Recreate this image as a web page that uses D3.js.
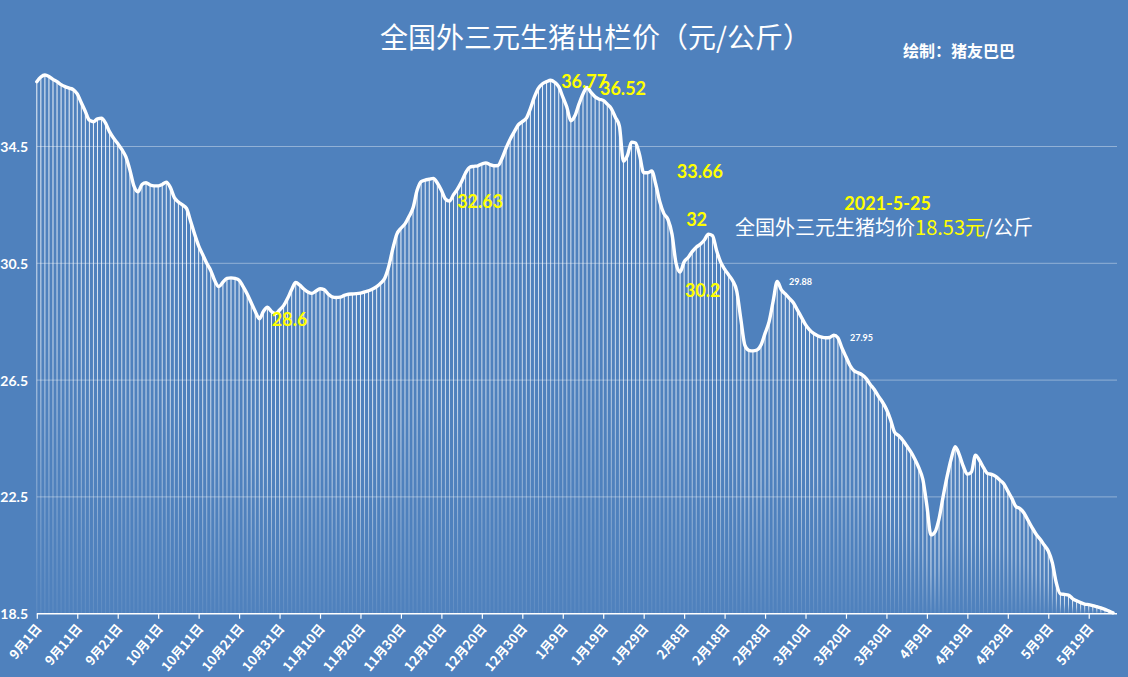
<!DOCTYPE html>
<html><head><meta charset="utf-8">
<script src="https://cdn.jsdelivr.net/npm/d3@7"></script>
<style>
html,body{margin:0;padding:0;background:#4f81bd;}
svg{display:block;}
</style></head><body>
<svg id="chart" width="1128" height="677"></svg>
<script>
// ---------------- data ----------------
const startDate = "2020-09-01";
const sepValues = [36.72,36.88,36.95,36.9,36.8,36.72,36.62,36.55,36.5,36.45,36.3,36.0,35.7,35.4,35.35,35.45,35.47,35.3,35.0,34.78,34.6,34.4,34.15,33.7,33.15,32.95,33.2,33.26,33.18,33.15];
const octValues = [33.15,33.2,33.28,33.1,32.75,32.6,32.5,32.38,31.95,31.5,31.1,30.8,30.5,30.25,29.9,29.7,29.85,29.98,30.0,29.98,29.92,29.7,29.45,29.15,28.85,28.6,28.85,29.0,28.85,28.78,28.9];
const novValues = [29.05,29.3,29.6,29.84,29.75,29.62,29.52,29.47,29.55,29.63,29.6,29.45,29.35,29.33,29.34,29.4,29.44,29.45,29.46,29.48,29.52,29.56,29.62,29.7,29.82,29.99,30.4,31.0,31.5,31.7];
const decValues = [31.85,32.1,32.4,33.0,33.3,33.35,33.38,33.41,33.25,33.0,32.7,32.63,32.85,33.05,33.3,33.6,33.79,33.82,33.84,33.9,33.94,33.88,33.84,33.85,34.1,34.45,34.75,35.0,35.24,35.35,35.47];
const janValues = [35.8,36.2,36.5,36.65,36.72,36.77,36.7,36.55,36.2,35.85,35.38,35.55,35.95,36.3,36.52,36.35,36.2,36.12,36.08,35.95,35.8,35.5,35.2,34.0,34.2,34.65,34.62,34.2,33.6,33.6,33.66];
const febValues = [33.2,32.6,32.2,32.0,31.5,30.5,30.2,30.55,30.7,30.9,31.05,31.15,31.3,31.5,31.45,30.95,30.55,30.3,30.1,29.9,29.55,28.6,27.7,27.52,27.5,27.53,27.7,28.1];
const marValues = [28.5,29.2,29.88,29.6,29.45,29.3,29.15,28.9,28.65,28.4,28.22,28.1,28.02,27.97,27.95,27.96,28.04,27.95,27.6,27.3,27.0,26.82,26.75,26.68,26.55,26.35,26.18,25.95,25.75,25.5,25.15];
const aprValues = [24.72,24.6,24.45,24.25,24.05,23.8,23.5,23.1,22.2,21.2,21.3,21.75,22.5,23.2,23.8,24.22,23.95,23.55,23.28,23.35,23.93,23.75,23.5,23.3,23.27,23.2,23.08,22.95,22.7,22.45];
const mayValues = [22.17,22.1,21.95,21.7,21.45,21.22,21.05,20.85,20.65,20.25,19.55,19.18,19.16,19.14,19.02,18.94,18.88,18.83,18.81,18.78,18.74,18.7,18.65,18.59,18.53];

const tickLabels = ["9月1日","9月11日","9月21日","10月1日","10月11日","10月21日","10月31日","11月10日","11月20日","11月30日","12月10日","12月20日","12月30日","1月9日","1月19日","1月29日","2月8日","2月18日","2月28日","3月10日","3月20日","3月30日","4月9日","4月19日","4月29日","5月9日","5月19日"];
const yTickValues = [18.5, 22.5, 26.5, 30.5, 34.5];

const titleText = "全国外三元生猪出栏价（元/公斤）";
const creditText = "绘制：猪友巴巴";
const calloutTexts = ["36.77","36.52","32.63","28.6","33.66","32","30.2"];
const smallTexts = ["29.88","27.95"];
const noteDate = "2021-5-25";
const notePrefix = "全国外三元生猪均价";
const noteValue = "18.53元";
const noteSuffix = "/公斤";

// ---------------- build ----------------
const values = [].concat(sepValues, octValues, novValues, decValues, janValues, febValues, marValues, aprValues, mayValues);
const parse = d3.utcParse("%Y-%m-%d");
const d0 = parse(startDate);
const data = values.map((v, i) => ({i, date: d3.utcDay.offset(d0, i), v}));

const svg = d3.select("#chart");
const W = 1128, H = 677;
const left = 36.8, right = 1113, plotRight = 1117;

svg.append("rect").attr("width", W).attr("height", H).attr("fill", "#4f81bd");

const x = d3.scaleLinear().domain([0, values.length - 1]).range([left, right]);
const y = d3.scaleLinear().domain([18.5, 34.5]).range([613.7, 146.5]);

const defs = svg.append("defs");
const grad = defs.append("linearGradient").attr("id", "dropGrad")
  .attr("x1", 0).attr("y1", 0).attr("x2", 0).attr("y2", 1);
grad.append("stop").attr("offset", "0%").attr("stop-color", "#fff").attr("stop-opacity", 0.92);
grad.append("stop").attr("offset", "50%").attr("stop-color", "#fff").attr("stop-opacity", 0.7);
grad.append("stop").attr("offset", "100%").attr("stop-color", "#fff").attr("stop-opacity", 0.08);

// gridlines
svg.append("g").selectAll("line").data(yTickValues.filter(t => t !== 18.5)).join("line")
  .attr("x1", left).attr("x2", plotRight)
  .attr("y1", d => y(d)).attr("y2", d => y(d))
  .attr("stroke", "#ffffff").attr("stroke-opacity", 0.38).attr("stroke-width", 1);

// drop lines (thin columns)
svg.append("g").selectAll("rect").data(data).join("rect")
  .attr("x", d => x(d.i) - 0.5).attr("width", 1.0)
  .attr("y", d => y(d.v)).attr("height", d => y(18.5) - y(d.v))
  .attr("fill", "url(#dropGrad)");

// y labels
svg.append("g").selectAll("text").data(yTickValues).join("text")
  .attr("x", 28).attr("y", d => y(d) + 5.5)
  .attr("text-anchor", "end")
  .attr("font-family", "Lato, 'DejaVu Sans', sans-serif").attr("font-weight", "bold")
  .attr("font-size", 14).attr("fill", "#fff")
  .text(d => d.toFixed(1));

// x axis
const tickIdx = tickLabels.map((_, k) => k * 10);
const xAxis = d3.axisBottom(x).tickValues(tickIdx).tickSize(5).tickSizeOuter(0)
  .tickFormat((d, k) => tickLabels[k]);
const gx = svg.append("g").attr("transform", `translate(0,${y(18.5)})`).call(xAxis);
gx.select(".domain").attr("stroke", "#fff").attr("stroke-width", 1.6)
  .attr("d", `M${left},0H${plotRight}`);
gx.selectAll(".tick line").attr("stroke", "#fff").attr("stroke-width", 1.2);
gx.selectAll(".tick text")
  .attr("fill", "#fff")
  .attr("font-family", "'Noto Sans CJK SC', sans-serif").attr("font-weight", "bold")
  .attr("font-size", 13)
  .attr("text-anchor", "end")
  .attr("y", 0).attr("dy", 0)
  .attr("transform", "translate(5,15) rotate(-50)");

// line
const line = d3.line().x(d => x(d.i)).y(d => y(d.v)).curve(d3.curveMonotoneX);
svg.append("path").datum(data).attr("d", line)
  .attr("fill", "none").attr("stroke", "#fff").attr("stroke-width", 3.4)
  .attr("stroke-linejoin", "round").attr("stroke-linecap", "round");

// callouts (anchored in data space: day index, value)
const calloutAnchors = [[129.6,36.5],[139.2,36.26],[103.9,32.38],[58.1,28.35],[158.2,33.41],[160.5,31.78],[160.2,29.36]];
svg.append("g").selectAll("text").data(calloutTexts).join("text")
  .attr("x", (d, k) => x(calloutAnchors[k][0]))
  .attr("y", (d, k) => y(calloutAnchors[k][1]))
  .attr("font-family", "Lato, sans-serif").attr("font-weight", "bold")
  .attr("font-size", 18).attr("fill", "#ffff00")
  .text(d => d);

const smallAnchors = [[185.9,29.76],[201,27.84]];
svg.append("g").selectAll("text").data(smallTexts).join("text")
  .attr("x", (d, k) => x(smallAnchors[k][0]))
  .attr("y", (d, k) => y(smallAnchors[k][1]))
  .attr("font-family", "Lato, sans-serif").attr("font-weight", "bold")
  .attr("font-size", 9).attr("fill", "#fff")
  .text(d => d);

// note
svg.append("text").attr("x", x(199.6)).attr("y", y(32.33))
  .attr("font-family", "Lato, sans-serif").attr("font-weight", "bold")
  .attr("font-size", 18).attr("fill", "#ffff00").text(noteDate);
const note = svg.append("text").attr("x", x(172.6)).attr("y", y(31.48))
  .attr("font-family", "'Noto Sans CJK SC', sans-serif").attr("font-size", 20).attr("fill", "#fff");
note.append("tspan").text(notePrefix);
note.append("tspan").attr("fill", "#ffff00").text(noteValue);
note.append("tspan").text(noteSuffix);

// title + credit
svg.append("text").attr("x", 380).attr("y", 48)
  .attr("font-family", "'Noto Sans CJK SC', sans-serif").attr("font-size", 28)
  .attr("font-weight", 400).attr("fill", "#fff").text(titleText);
svg.append("text").attr("x", 903).attr("y", 57)
  .attr("font-family", "'Noto Sans CJK SC', sans-serif").attr("font-size", 16)
  .attr("font-weight", "bold").attr("fill", "#fff").text(creditText);
</script>
</body></html>
